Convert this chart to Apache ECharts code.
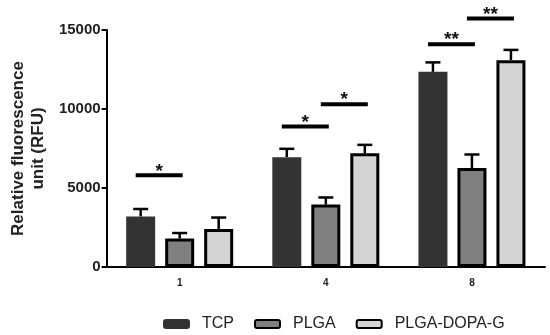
<!DOCTYPE html>
<html>
<head>
<meta charset="utf-8">
<script src="https://cdn.jsdelivr.net/npm/echarts@6/dist/echarts.min.js"></script>
<style>html,body{margin:0;padding:0;background:#fff;}#c{width:550px;height:335px;}</style>
</head>
<body>
<div id="c"></div>
<script>
const categories = ['1', '4', '8'];
const seriesNames = ['TCP', 'PLGA', 'PLGA-DOPA-G'];
const tcpValues = [3200, 6950, 12350];
const tcpErrors = [470, 530, 600];
const plgaValues = [1800, 3950, 6270];
const plgaErrors = [350, 450, 850];
const dopaValues = [2400, 7200, 13090];
const dopaErrors = [730, 530, 650];
const yTicks = [0, 5000, 10000, 15000];
// significance brackets
const sigCategory = [0, 1, 1, 2, 2];
const sigFrom = [0, 0, 1, 0, 1];
const sigTo = [1, 1, 2, 1, 2];
const sigValue = [5800, 8900, 10300, 14100, 15730];
const sigLabel = ['*', '*', '*', '**', '**'];

const BAR_W = 29;
const BAR_GAP = 0.345;
const fills = ['#333333', '#808080', '#d4d4d4'];
const borders = ['#333333', '#000000', '#000000'];
const values = [tcpValues, plgaValues, dopaValues];
const errors = [tcpErrors, plgaErrors, dopaErrors];

const chart = echarts.init(document.getElementById('c'), null, {renderer: 'canvas'});

const barSeries = seriesNames.map((name, i) => ({
  name: name,
  type: 'bar',
  data: values[i],
  barWidth: BAR_W,
  barGap: (BAR_GAP * 100) + '%',
  itemStyle: {color: fills[i], borderColor: borders[i], borderWidth: 3},
  emphasis: {disabled: true},
  z: 2
}));

const errSeries = seriesNames.map((name, i) => ({
  type: 'custom',
  name: name + '_err',
  data: values[i].map((v, k) => [k, v, v + errors[i][k]]),
  z: 1,
  silent: true,
  renderItem: function (params, api) {
    const top = api.coord([api.value(0), api.value(2)]);
    const base = api.coord([api.value(0), api.value(1)]);
    const step = BAR_W * (1 + BAR_GAP);
    const x = base[0] + (i - 1) * step;
    return {
      type: 'group',
      children: [
        {type: 'line', shape: {x1: x, y1: base[1], x2: x, y2: top[1]}, style: {stroke: '#000', lineWidth: 2.5}},
        {type: 'line', shape: {x1: x - 7.5, y1: top[1], x2: x + 7.5, y2: top[1]}, style: {stroke: '#000', lineWidth: 2.5}}
      ]
    };
  }
}));

const sigSeries = {
  type: 'custom',
  name: 'sig',
  silent: true,
  z: 3,
  data: sigCategory.map((c, k) => [c, sigValue[k], sigFrom[k], sigTo[k]]),
  renderItem: function (params, api) {
    const p = api.coord([api.value(0), api.value(1)]);
    const step = BAR_W * (1 + BAR_GAP);
    const x1 = p[0] + (api.value(2) - 1) * step - 5;
    const x2 = p[0] + (api.value(3) - 1) * step + 3;
    return {
      type: 'group',
      children: [
        {type: 'line', shape: {x1: x1, y1: p[1], x2: x2, y2: p[1]}, style: {stroke: '#000', lineWidth: 4}},
        {type: 'text', style: {text: sigLabel[params.dataIndex], x: (x1 + x2) / 2, y: p[1] - 4, align: 'center', verticalAlign: 'middle', font: 'bold 19px Arial', fill: '#111'}}
      ]
    };
  }
};

chart.setOption({
  animation: false,
  backgroundColor: '#ffffff',
  grid: {left: 103, right: 5, top: 30, bottom: 68},
  legend: {
    data: seriesNames,
    left: 158,
    top: 311,
    itemWidth: 25,
    itemHeight: 8,
    itemGap: 20,
    textStyle: {fontFamily: 'Arial', fontSize: 16, color: '#222', padding: [0, 0, 0, 8]}
  },
  xAxis: {
    type: 'category',
    data: categories,
    axisLine: {lineStyle: {color: '#000', width: 2}},
    axisTick: {alignWithLabel: true, length: 4, lineStyle: {color: '#000', width: 2}},
    axisLabel: {fontFamily: 'Arial', fontWeight: 'bold', fontSize: 10, color: '#222', margin: 11}
  },
  yAxis: {
    type: 'value',
    min: yTicks[0],
    max: yTicks[yTicks.length - 1],
    interval: 5000,
    name: 'Relative fluorescence\nunit (RFU)',
    nameLocation: 'middle',
    nameGap: 56,
    nameTextStyle: {fontFamily: 'Arial', fontWeight: 'bold', fontSize: 17, color: '#222', lineHeight: 20},
    axisLine: {show: true, lineStyle: {color: '#000', width: 2}},
    axisTick: {show: true, length: 5, lineStyle: {color: '#000', width: 2}},
    splitLine: {show: false},
    axisLabel: {fontFamily: 'Arial', fontWeight: 'bold', fontSize: 15, color: '#222', margin: 6, formatter: v => String(v)}
  },
  series: [...barSeries, ...errSeries, sigSeries]
});
</script>
</body>
</html>
